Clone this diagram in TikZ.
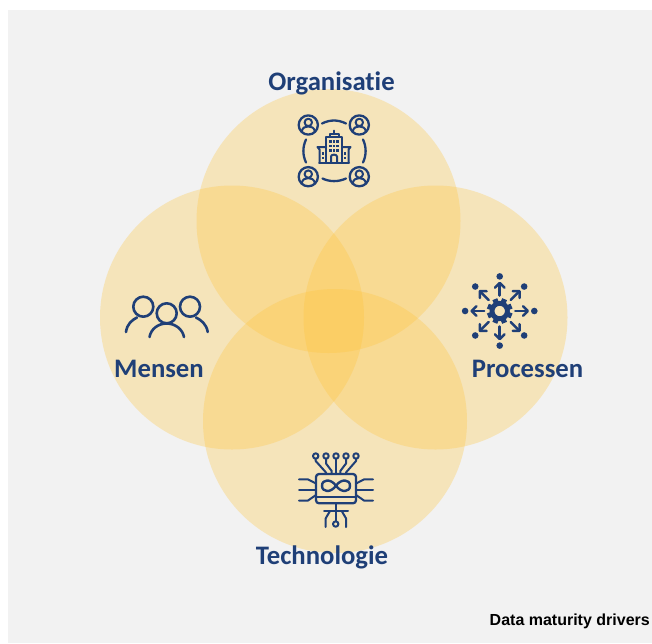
\documentclass[tikz,border=0pt]{standalone}
\usepackage{fontspec}
\setmainfont[Ligatures=NoCommon]{Carlito}
\newfontfamily\arialfont{Liberation Sans}
\definecolor{navy}{HTML}{1F3F77}
\definecolor{amber}{HTML}{FFC43A}
\definecolor{panel}{HTML}{F2F2F2}
\tikzset{
  petal/.style={circle,minimum size=264pt,inner sep=0pt,fill=amber,fill opacity=.3,draw=none},
  title/.style={font=\bfseries\fontsize{26.7pt}{30pt}\selectfont,text=navy,inner sep=0pt,anchor=base},
  icon/.style={draw=navy,line width=2.3pt,line cap=round,line join=round},
  thin icon/.style={icon,line width=2pt},
  person/.pic={
    \draw[icon] (0,0) circle (9.6);
    \draw[thin icon] (0,-2.6) circle (3.7);
    \draw[thin icon] (-6.6,6.6) .. controls (-6,2.6) and (-3,1.4) .. (0,1.4) .. controls (3,1.4) and (6,2.6) .. (6.6,6.6);
  }
}
\begin{document}
\begin{tikzpicture}[x=1pt,y=-1pt]
\useasboundingbox (0,0) rectangle (652,643);
\fill[panel] (7.5,10) rectangle (652,643);
% circles
\node[petal] (org) at (328.5,221) {};
\node[petal] (men) at (232,317.5) {};
\node[petal] (pro) at (435.5,317.5) {};
\node[petal] (tec) at (335,421) {};
% titles
\node[title] (torg) at (331.5,90.5) {Organisatie};
\node[title] (tmen) at (159,377) {Mensen};
\node[title] (tpro) at (527.5,377) {Processen};
\node[title] (ttec) at (322,564) {Technologie};
\node[font=\arialfont\bfseries\fontsize{16pt}{18pt}\selectfont,text=black,inner sep=0pt,anchor=base east] (cap) at (650,625.5) {Data maturity drivers};
% organisation icon
\pic at (308.3,125) {person};
\pic at (359.3,125) {person};
\pic at (308.3,176.7) {person};
\pic at (359.3,176.7) {person};
\draw[icon] (322,123.5) .. controls (330,119.5) and (338,119.5) .. (346,123.5);
\draw[icon] (322.5,178.5) .. controls (330,182) and (338,182) .. (346,178.5);
\draw[icon] (306,139.5) .. controls (302.5,147) and (302.5,155) .. (306,162.5);
\draw[icon] (363,139.5) .. controls (366.5,147) and (366.5,155) .. (363,162.5);
\begin{scope}[shift={(334,148)}]
  \draw[thin icon] (-8,14.5) -- (-8,-11) -- (8,-11) -- (8,14.5);
  \draw[thin icon] (-15,14.5) -- (15,14.5);
  \draw[thin icon] (-8,-1) -- (-16.5,-1) -- (-14.5,1.5) -- (-14.5,14.5);
  \draw[thin icon] (8,-1) -- (16.5,-1) -- (14.5,1.5) -- (14.5,14.5);
  \draw[thin icon] (-4.5,-11) -- (-4.5,-14) -- (4.5,-14) -- (4.5,-11);
  \draw[thin icon] (0,-14) -- (0,-17.5);
  \draw[thin icon] (-3,14.5) -- (-3,8.5) .. controls (-3,6) and (3,6) .. (3,8.5) -- (3,14.5);
  \foreach \wx in {-3.6,3.6} \foreach \wy in {-6.5,-2,2.5}
    \fill[navy] (\wx-1.2,\wy-1.3) rectangle (\wx+1.2,\wy+1.3);
  \foreach \wy in {-6.5,-2,2.5}
    \fill[navy] (-1.2,\wy-1.3) rectangle (1.2,\wy+1.3);
  \foreach \wy in {5.5,10}{
    \fill[navy] (-12.4,\wy-1.2) rectangle (-10.2,\wy+1.2);
    \fill[navy] (10.2,\wy-1.2) rectangle (12.4,\wy+1.2);}
\end{scope}
% people icon
\begin{scope}[shift={(115,285)}]
  \draw[icon,line width=2.6pt] (28.3,21.7) circle (10);
  \draw[icon,line width=2.6pt] (75,21.7) circle (10);
  \draw[icon,line width=2.6pt] (51.7,28.3) circle (10);
  \draw[icon,line width=2.6pt] (11,47) .. controls (12,39) and (17,35) .. (22,32.5);
  \draw[icon,line width=2.6pt] (81,32.5) .. controls (86,35) and (91.5,39) .. (92.7,47);
  \draw[icon,line width=2.6pt] (34.5,52) .. controls (36,44) and (43,38.5) .. (51.7,38.5) .. controls (60,38.5) and (67.5,44) .. (69,52);
\end{scope}
% process icon
\begin{scope}[shift={(499.7,311)}]
  \draw[navy,line width=4.8pt] (0,0) circle (7.7);
  \foreach \a in {0,45,...,315}
    \fill[navy,rotate=\a+22.5] (-2.6,-12.8) rectangle (2.6,-9);
  \foreach \a in {0,45,...,315}{
    \begin{scope}[rotate=\a]
      \fill[navy] (34.6,0) circle (3.3);
      \draw[icon,line width=2.5pt] (15.5,0) -- (27.5,0);
      \draw[icon,line width=2.5pt] (23.3,-4.8) -- (28.1,0) -- (23.3,4.8);
    \end{scope}}
\end{scope}
% technology icon
\begin{scope}[shift={(285,440)}]
  \draw[icon,rounded corners=3pt] (31,34) rectangle (71,63.3);
  \draw[thin icon] (31,57.3) -- (71,57.3);
  \draw[icon,line width=2.4pt] (51,45.7) .. controls (46,38.5) and (37,39) .. (37,45.7) .. controls (37,52.5) and (46,53) .. (51,45.7) .. controls (56,38.5) and (65,39) .. (65,45.7) .. controls (65,52.5) and (56,53) .. (51,45.7) -- cycle;
  \foreach \px in {30.7,41,51,61,71}
    \draw[thin icon] (\px,16) circle (2.7);
  \draw[thin icon] (51,18.7) -- (51,34);
  \draw[thin icon] (41,18.7) -- (41,23.5) -- (46.7,31) -- (46.7,34);
  \draw[thin icon] (61,18.7) -- (61,23.5) -- (55.3,31) -- (55.3,34);
  \draw[thin icon] (30.7,18.7) -- (30.7,21) -- (41,32.5) -- (41,34);
  \draw[thin icon] (71,18.7) -- (71,21) -- (61,32.5) -- (61,34);
  \draw[thin icon] (14,39.3) -- (22.7,39.3) -- (31,43.5);
  \draw[thin icon] (14,50) -- (31,50);
  \draw[thin icon] (14,60.7) -- (22.7,60.7) -- (31,55);
  \draw[thin icon] (88,39.3) -- (79.3,39.3) -- (71,43.5);
  \draw[thin icon] (71,50) -- (88,50);
  \draw[thin icon] (88,60.7) -- (79.3,60.7) -- (71,55);
  \draw[thin icon] (39,71) -- (63,71);
  \draw[thin icon] (51,63.3) -- (51,81.3);
  \draw[thin icon] (50.7,84) circle (2.7);
  \draw[thin icon] (45,71) -- (40.7,78.3) -- (40.7,87);
  \draw[thin icon] (56.7,71) -- (61,78.3) -- (61,87);
\end{scope}
\end{tikzpicture}
\end{document}
